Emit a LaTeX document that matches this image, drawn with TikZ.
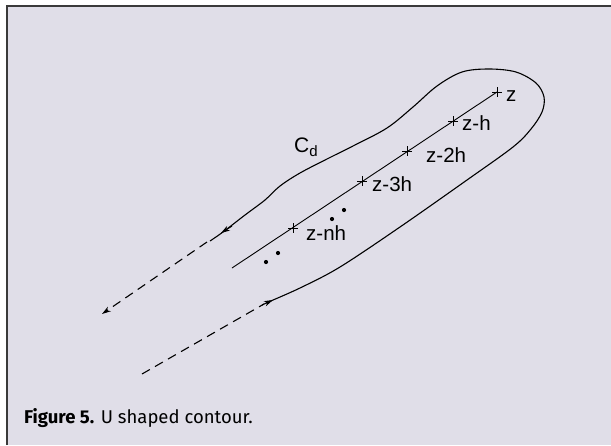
\documentclass[tikz,border=0pt]{standalone}
\usepackage{fontspec}
\setmainfont{Liberation Sans}
\newfontfamily\capfont{Fira Sans}
\usetikzlibrary{arrows.meta,calc}
\definecolor{panel}{HTML}{E0DEE8}
\definecolor{edge}{HTML}{3A3A3A}
\tikzset{
  curve/.style={line width=1.1pt, black},
  dline/.style={line width=1.1pt, black, dash pattern=on 9pt off 6pt},
  tip/.style={-{Stealth[length=9pt,width=5.5pt]}},
  lab/.style={anchor=base west, inner sep=0pt, font=\fontsize{20.5}{20.5}\selectfont},
  cross/.style={line width=0.9pt},
}
\newcommand{\crossat}[1]{\draw[cross] ($(#1)+(-5,0)$) -- ($(#1)+(5,0)$) ($(#1)+(0,-5)$) -- ($(#1)+(0,5)$);}
\begin{document}
\begin{tikzpicture}[x=1pt,y=-1pt]
\useasboundingbox (0,0) rectangle (611,445);
\fill[white] (0,0) rectangle (611,445);
\fill[panel] (7,6) rectangle (611,445);
\draw[edge, line width=2pt] (7,445) -- (7,6) -- (611,6);

% straight line with points
\coordinate (s) at (232,268);
\coordinate (z0) at (497,92);
\coordinate (z1) at (453,121);
\coordinate (z2) at (407,151);
\coordinate (z3) at (362,181);
\coordinate (zn) at (293,228);
\draw[line width=0.9pt] (s) -- (z0);
\crossat{z0}\crossat{z1}\crossat{z2}\crossat{z3}\crossat{zn}

\node[lab] (l0) at (506,101) {z};
\node[lab] (l1) at (462,130) {z-h};
\node[lab] (l2) at (426,162) {z-2h};
\node[lab] (l3) at (372,191) {z-3h};
\node[lab] (ln) at (306,240) {z-nh};

% dots
\foreach \p in {(332,219),(344,210),(266,262),(278,253)}
  \fill \p circle (2.1pt);

% contour
\draw[curve] plot[smooth, tension=0.55] coordinates {
  (266,303) (300,288) (340,267) (400,227) (467,180) (513,147)
  (531,129) (542,112) (544,97) (536,83) (516,72) (489,69) (462,72) (437,86)
  (413,107) (387,128) (353,146) (327,159) (300,173) (280,186)
  (265,200) (245,215) (223,232) (210,241)};
\coordinate (a1s) at (262,305);
\coordinate (a1e) at (273,300);
\draw[curve, tip] (a1s) -- (a1e);
\coordinate (a2s) at (232,226);
\coordinate (a2e) at (221,233);
\draw[curve, tip] (a2s) -- (a2e);

% dashed tails
\coordinate (d1s) at (142,374);
\coordinate (d1e) at (264,304);
\draw[dline] (d1s) -- (d1e);
\coordinate (d2s) at (207,242);
\coordinate (d2e) at (102,314);
\draw[dline, tip] (d2s) -- (d2e);

\node[anchor=base west, inner sep=0pt, font=\fontsize{21}{21}\selectfont] (cd) at (294,152) {C\raisebox{-4.5pt}{\fontsize{15}{15}\selectfont d}};

\node[anchor=base west, inner sep=0pt, font=\capfont\fontsize{18.5}{18.5}\selectfont] (cap) at (24,423) {\textbf{Figure 5.} U shaped contour.};
\end{tikzpicture}
\end{document}
